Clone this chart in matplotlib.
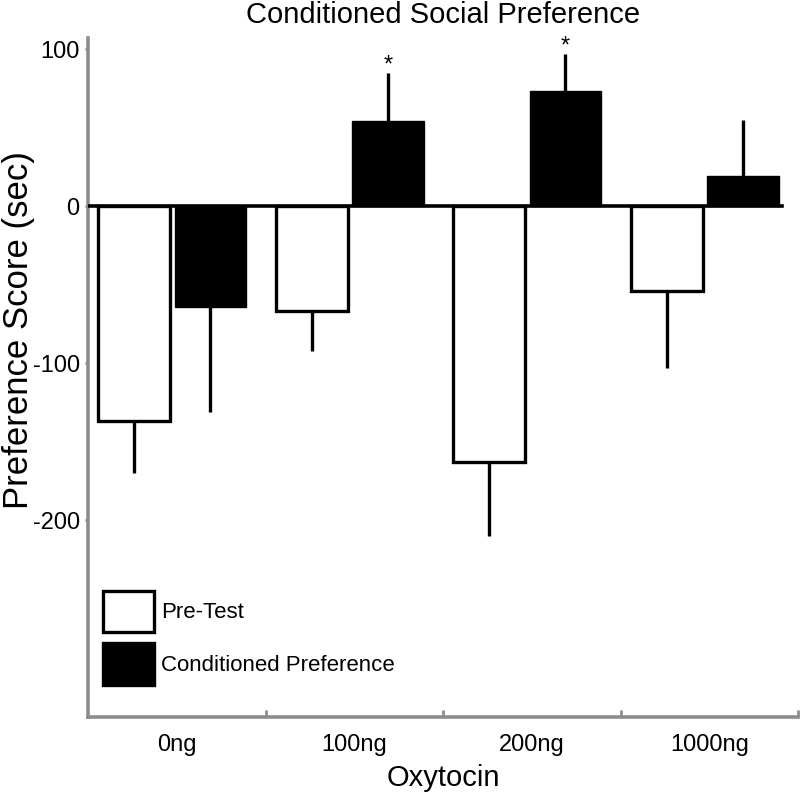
import numpy as np
import matplotlib
matplotlib.use('Agg')
import matplotlib.pyplot as plt

rc = {'font.family': ['Liberation Sans', 'DejaVu Sans'],
      'font.size': 14}
plt.rcParams.update(rc)

doses = ['0ng', '100ng', '200ng', '1000ng']
pre_test = [-137, -67, -163, -54]
pre_err = [33, 25, 47, 49]
cond_pref = [-64, 54, 73, 19]
cond_err = [67, 31, 24, 36]
significant = [False, True, True, False]

grey = '#8c8c8c'
x = np.arange(len(doses))
width = 0.405

fig = plt.figure(figsize=(8, 7.93), dpi=100)
ax = fig.add_axes([0.11, 0.096, 0.8875, 0.856])

# one sided error bars, pointing away from zero
pre_yerr = [pre_err, np.zeros(len(x))]
cond_yerr = [[e if v < 0 else 0 for v, e in zip(cond_pref, cond_err)],
             [e if v > 0 else 0 for v, e in zip(cond_pref, cond_err)]]

ax.bar(x - 0.24, pre_test, width, color='white', edgecolor='black',
       linewidth=2.4, label='Pre-Test', zorder=2)
ax.bar(x + 0.19, cond_pref, width, color='black', edgecolor='black',
       linewidth=1, label='Conditioned Preference', zorder=2)
ax.errorbar(x - 0.24, pre_test, yerr=pre_yerr, fmt='none', ecolor='black',
            elinewidth=2.4, capsize=0, zorder=1)
ax.errorbar(x + 0.19, cond_pref, yerr=cond_yerr, fmt='none', ecolor='black',
            elinewidth=2.4, capsize=0, zorder=1)

for i, sig in enumerate(significant):
    if sig:
        ax.text(x[i] + 0.19, cond_pref[i] + cond_err[i] + 1, '*',
                ha='center', va='baseline', fontsize=17, clip_on=False)

ax.axhline(0, xmin=0, xmax=0.977, color='black', linewidth=2.6, zorder=3)

ax.set_xlim(-0.5, 3.5)
ax.set_ylim(-325, 107)
ax.set_yticks([100, 0, -100, -200])
ax.set_yticklabels(['100', '0', '-100', '-200'])
ax.set_xticks(x)
ax.set_xticklabels(doses)
ax.set_xticks([0.5, 1.5, 2.5, 3.5], minor=True)
ax.tick_params(axis='x', which='major', length=0, pad=12, labelsize=17)
ax.tick_params(axis='x', which='minor', direction='in', length=5,
               width=2, color=grey)
ax.tick_params(axis='y', length=2, width=2, color=grey, pad=4, labelsize=17)

for s in ['top', 'right']:
    ax.spines[s].set_visible(False)
for s in ['left', 'bottom']:
    ax.spines[s].set_color(grey)
    ax.spines[s].set_linewidth(2.6)

ax.set_title('Conditioned Social Preference', fontsize=21, pad=11)
ax.set_xlabel('Oxytocin', fontsize=21, labelpad=6)
ax.set_ylabel('Preference Score (sec)', fontsize=25)
ax.yaxis.set_label_coords(-0.074, 0.57)

leg = ax.legend(loc='lower left', bbox_to_anchor=(0.021, 0.047),
                borderaxespad=0, borderpad=0, frameon=False, fontsize=16,
                handlelength=2.3, handleheight=2.5, handletextpad=0.3,
                labelspacing=0.5)
for h in leg.legend_handles:
    h.set_linewidth(2.4)

fig.savefig('out.png', dpi=100)
